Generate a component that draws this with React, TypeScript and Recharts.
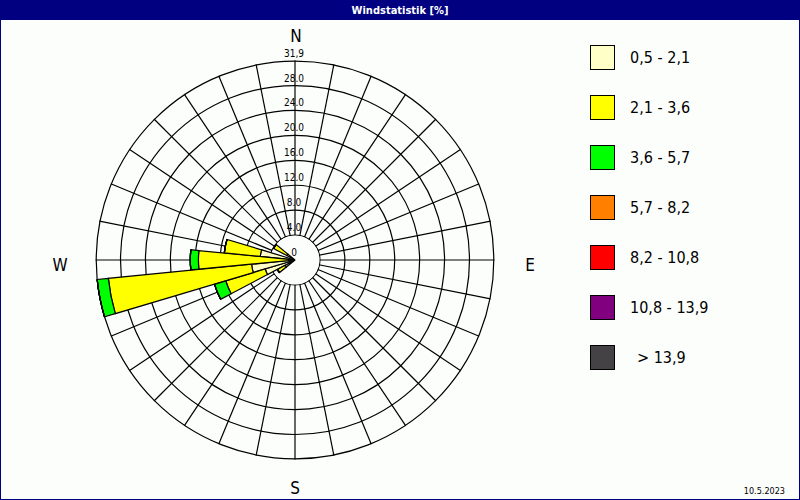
import React from 'react';
import {
  RadialBarChart,
  RadialBar,
  PolarGrid,
  PolarAngleAxis,
  PolarRadiusAxis,
  PieChart,
  Pie,
} from 'recharts';

// ---- data ----
const bearings = [
  0, 11.25, 22.5, 33.75, 45, 56.25, 67.5, 78.75,
  90, 101.25, 112.5, 123.75, 135, 146.25, 157.5, 168.75,
  180, 191.25, 202.5, 213.75, 225, 236.25, 247.5, 258.75,
  270, 281.25, 292.5, 303.75, 315, 326.25, 337.5, 348.75,
];

// percentage per sector for each wind-speed class (m/s)
const speed05to21 = [
  0, 0, 0, 0, 0, 0, 0, 0,
  0, 0, 0, 0, 0, 0, 0, 0,
  0, 0, 0, 0, 0, 1.8, 5.0, 7.0,
  1.0, 5.6, 0, 1.5, 0, 0, 0, 0,
];
const speed21to36 = [
  0, 0, 0, 0, 0, 0, 0, 0,
  0, 0, 0, 0, 0, 0, 0, 0,
  0, 0, 0, 0, 0, 1.4, 6.6, 23.1,
  14.5, 5.8, 0, 2.4, 0, 0, 0, 0,
];
const speed36to57 = [
  0, 0, 0, 0, 0, 0, 0, 0,
  0, 0, 0, 0, 0, 0, 0, 0,
  0, 0, 0, 0, 0, 0, 1.9, 1.8,
  1.3, 0, 0, 0, 0, 0, 0, 0,
];
const speed57to82 = new Array(32).fill(0);
const speed82to108 = new Array(32).fill(0);
const speed108to139 = new Array(32).fill(0);
const speedAbove139 = new Array(32).fill(0);

const classLabels = ['0,5 - 2,1', '2,1 - 3,6', '3,6 - 5,7', '5,7 - 8,2', '8,2 - 10,8', '10,8 - 13,9', '> 13,9'];
const classColors = ['#FFFFC8', '#FFFF00', '#00FF00', '#FF8000', '#FF0000', '#800080', '#444244'];
const classSeries = [speed05to21, speed21to36, speed36to57, speed57to82, speed82to108, speed108to139, speedAbove139];

const radiusMax = 31.9;
const radiusTicks = [0, 4, 8, 12, 16, 20, 24, 28, 31.9];
const radiusTickLabels = ['0', '4.0', '8.0', '12.0', '16.0', '20.0', '24.0', '28.0', '31,9'];

const compassLabels = [
  { text: 'N', x: 296, y: 42 },
  { text: 'E', x: 530, y: 271 },
  { text: 'S', x: 295, y: 494 },
  { text: 'W', x: 60, y: 271 },
];

const title = 'Windstatistik [%]';
const dateText = '10.5.2023';

// table for recharts
const tableData = bearings.map((b, i) => {
  const row: Record<string, number | string> = { dir: String(b) };
  classSeries.forEach((s, k) => {
    row['c' + k] = s[i];
  });
  return row;
});

// ---- layout ----
const W = 800;
const H = 500;
const CX = 295;
const CY = 260;
const OUTER = 199.4;
const CALM_R = 24.5;
const FONT = '"DejaVu Sans Condensed", "DejaVu Sans", sans-serif';
const margin = { top: 0, right: 0, bottom: 0, left: 0 };
const startAngle = 90 - 180 / bearings.length;
const endAngle = startAngle - 360;
const spokeAngles = bearings.map((b) => 90 - b);

const layer: React.CSSProperties = { position: 'absolute', left: 0, top: 0 };

const RadiusTick = (props: any) => {
  const { x, y, payload } = props;
  const idx = radiusTicks.indexOf(payload.value);
  const label = idx >= 0 ? radiusTickLabels[idx] : String(payload.value);
  return (
    <text
      x={x - 1}
      y={y - 4}
      textAnchor="middle"
      fontFamily={FONT}
      fontSize={10}
      fill="#000"
      style={{ fontStretch: 'condensed' }}
    >
      {label}
    </text>
  );
};

const RoseChart = ({ grid }: { grid: boolean }) => (
  <RadialBarChart
    width={W}
    height={H}
    data={tableData}
    cx={CX}
    cy={CY}
    innerRadius={0}
    outerRadius={OUTER}
    startAngle={startAngle}
    endAngle={endAngle}
    layout="centric"
    barCategoryGap={0}
    barGap={0}
    margin={margin}
  >
    <PolarAngleAxis type="category" dataKey="dir" tick={false} axisLine={false} tickLine={false} />
    <PolarRadiusAxis
      type="number"
      domain={[0, radiusMax]}
      ticks={radiusTicks}
      angle={90}
      tick={grid ? false : <RadiusTick />}
      axisLine={false}
      tickLine={false}
    />
    {grid && (
      <PolarGrid gridType="circle" polarAngles={spokeAngles} stroke="#000" strokeWidth={1.2} strokeOpacity={1} />
    )}
    {classSeries.map((_, k) => (
      <RadialBar
        key={k}
        dataKey={'c' + k}
        stackId="rose"
        fill={grid ? 'none' : classColors[k]}
        stroke={grid ? 'none' : '#000'}
        strokeWidth={1.2}
        isAnimationActive={false}
      />
    ))}
  </RadialBarChart>
);

export default function App() {
  return (
    <div
      style={{
        position: 'absolute',
        left: 0,
        top: 0,
        width: W,
        height: H,
        background: '#fcfefc',
        overflow: 'hidden',
      }}
    >
      {/* layer A: grid */}
      <div style={layer}>
        <RoseChart grid={true} />
      </div>

      {/* layer B: calm circle */}
      <div style={layer}>
        <PieChart width={W} height={H} margin={margin}>
          <Pie
            data={[{ name: 'calm', value: 1 }]}
            dataKey="value"
            cx={CX}
            cy={CY}
            innerRadius={0}
            outerRadius={CALM_R}
            startAngle={0}
            endAngle={360}
            fill="#fcfefc"
            stroke="none"
            isAnimationActive={false}
          />
        </PieChart>
      </div>

      {/* layer C: wind rose bars */}
      <div style={layer}>
        <RoseChart grid={false} />
      </div>

      {/* frame, title, labels, legend */}
      <svg width={W} height={H} style={{ ...layer, pointerEvents: 'none' }}>
        <rect x={0.5} y={0.5} width={W - 1} height={H - 1} fill="none" stroke="#000080" strokeWidth={1} />
        <rect x={0} y={0} width={W} height={20} fill="#000080" />
        <text
          x={400}
          y={14}
          textAnchor="middle"
          fill="#fff"
          fontFamily={FONT}
          fontWeight="bold"
          fontSize={11}
          style={{ fontStretch: 'condensed' }}
        >
          {title}
        </text>
        {compassLabels.map((c) => (
          <text
            key={c.text}
            x={c.x}
            y={c.y}
            textAnchor="middle"
            fontFamily={FONT}
            fontSize={17}
            fill="#000"
            style={{ fontStretch: 'condensed' }}
          >
            {c.text}
          </text>
        ))}
        {classLabels.map((lab, k) => (
          <g key={lab}>
            <rect x={590.5} y={45.5 + k * 50} width={24} height={24} fill={classColors[k]} stroke="#000" strokeWidth={1} />
            <text
              x={k === 6 ? 637 : 630}
              y={63 + k * 50}
              fontFamily={FONT}
              fontSize={16}
              fill="#000"
              style={{ fontStretch: 'condensed' }}
            >
              {lab}
            </text>
          </g>
        ))}
        <text
          x={785}
          y={494}
          textAnchor="end"
          fontFamily={FONT}
          fontSize={9}
          fill="#000"
          style={{ fontStretch: 'condensed' }}
        >
          {dateText}
        </text>
      </svg>
    </div>
  );
}
